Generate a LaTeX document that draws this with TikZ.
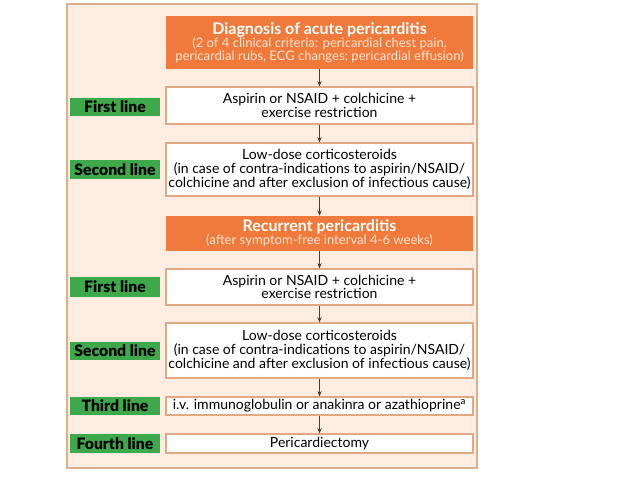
\documentclass[tikz,border=0pt]{standalone}
\usepackage{fontspec}
\setmainfont{Lato}
\newfontfamily\labelfont{Lato Black}
\usetikzlibrary{arrows.meta}

\newdimen\px
\px=0.75pt

\definecolor{panelfill}{HTML}{FDEDE0}
\definecolor{paneldraw}{HTML}{DDAE8C}
\definecolor{diagorange}{HTML}{EF7A3B}
\definecolor{diagtext}{HTML}{FCE3D3}
\definecolor{linegreen}{HTML}{3DA94A}
\definecolor{boxdraw}{HTML}{E2A884}

\tikzset{
  diagbox/.style={fill=diagorange, inner sep=0pt, minimum width=307\px,
    align=center, font=\fontsize{9.8}{9.8}\selectfont, text=diagtext},
  stepbox/.style={draw=boxdraw, line width=0.8pt, fill=white, inner sep=0pt,
    minimum width=307\px, align=center, font=\fontsize{10.5}{10.3}\selectfont},
  linelabel/.style={fill=linegreen, inner sep=0pt, minimum width=90\px,
    font=\fontsize{11.8}{11.8}\labelfont},
  flow/.style={draw=black!75, line width=0.5pt, -{Stealth[length=4pt,width=3.2pt]}}
}

\begin{document}
\begin{tikzpicture}[x=1\px,y=-1\px]

    \useasboundingbox (0,0) rectangle (638,478);

    % panel
    \draw[fill=panelfill, draw=paneldraw, line width=0.8pt] (67,4) rectangle (477,468);

    % orange headers
    \node[diagbox, minimum height=53\px] (diag) at (319.5,42.5)
      {{\fontsize{12}{11}\selectfont\bfseries\color{white}Diagnosis of acute pericarditis}\\
       (2 of 4 clinical criteria: pericardial chest pain,\\
       pericardial rubs, ECG changes; pericardial effusion)};
    \node[diagbox, minimum height=35\px] (recur) at (319.5,233.5)
      {{\fontsize{12}{11}\selectfont\bfseries\color{white}Recurrent pericarditis}\\
       (after symptom-free interval 4-6 weeks)};

    % treatment boxes
    \node[stepbox, minimum height=37\px] (first1) at (319.5,105.5)
      {Aspirin or NSAID + colchicine +\\ exercise restriction};
    \node[stepbox, minimum height=53\px] (second1) at (319.5,169.5)
      {Low-dose corticosteroids\\
       (in case of contra-indications to aspirin/NSAID/\\
       colchicine and after exclusion of infectious cause)};
    \node[stepbox, minimum height=36\px] (first2) at (319.5,287)
      {Aspirin or NSAID + colchicine +\\ exercise restriction};
    \node[stepbox, minimum height=55\px] (second2) at (319.5,350.5)
      {Low-dose corticosteroids\\
       (in case of contra-indications to aspirin/NSAID/\\
       colchicine and after exclusion of infectious cause)};
    \node[stepbox, minimum height=18\px] (third) at (319.5,406)
      {i.v. immunoglobulin or anakinra or azathioprine\textsuperscript{a}};
    \node[stepbox, minimum height=19\px] (fourth) at (319.5,443.5)
      {Pericardiectomy};

    % green labels
    \node[linelabel, minimum height=18\px] (lfirst1) at (115,107) {First line};
    \node[linelabel, minimum height=19\px] (lsecond1) at (115,169.5) {Second line};
    \node[linelabel, minimum height=20\px] (lfirst2) at (115,287) {First line};
    \node[linelabel, minimum height=18\px] (lsecond2) at (115,351) {Second line};
    \node[linelabel, minimum height=18\px] (lthird) at (115,406) {Third line};
    \node[linelabel, minimum height=19\px] (lfourth) at (115,443.5) {Fourth line};

    % arrows
    \foreach \a/\b in {diag/first1, first1/second1, second1/recur, recur/first2,
                       first2/second2, second2/third, third/fourth}
      \draw[flow] (\a.south) -- (\b.north);

\end{tikzpicture}
\end{document}
